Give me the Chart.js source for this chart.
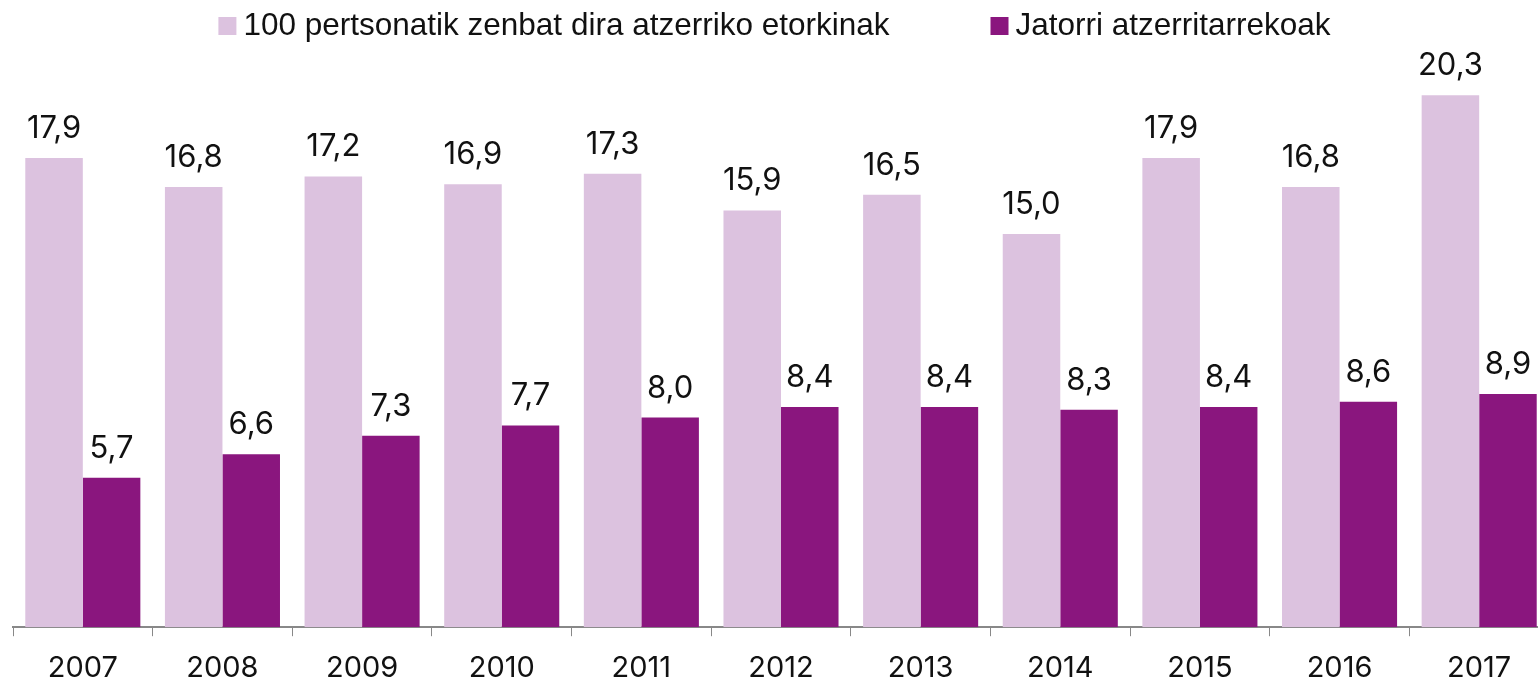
<!DOCTYPE html>
<html>
<head>
<meta charset="utf-8">
<script src="https://cdn.jsdelivr.net/npm/chart.js@4/dist/chart.umd.min.js"></script>
<style>
  html, body { margin: 0; padding: 0; background: #fff; overflow: hidden; }
  #wrap { width: 1549px; height: 701px; }
</style>
</head>
<body>
<div id="wrap"><canvas id="chart"></canvas></div>
<script>
// Datuak
const years = ['2007', '2008', '2009', '2010', '2011', '2012', '2013', '2014', '2015', '2016', '2017'];
const etorkinak = [17.9, 16.8, 17.2, 16.9, 17.3, 15.9, 16.5, 15.0, 17.9, 16.8, 20.3];
const jatorriAtzerritarrekoak = [5.7, 6.6, 7.3, 7.7, 8.0, 8.4, 8.4, 8.3, 8.4, 8.6, 8.9];
const seriesNames = ['100 pertsonatik zenbat dira atzerriko etorkinak', 'Jatorri atzerritarrekoak'];
const seriesColors = ['#dcc2df', '#8a167e'];

const numFont = 'Inter, "Liberation Sans", sans-serif';
const legendFont = '"Liberation Sans", Arial, sans-serif';

// Balioak barren gainean idazteko plugina
const valueLabels = {
    id: 'valueLabels',
    afterDatasetsDraw(chart) {
        const ctx = chart.ctx;
        ctx.save();
        ctx.font = '31px ' + numFont;
        ctx.fillStyle = '#111';
        ctx.textAlign = 'center';
        ctx.textBaseline = 'alphabetic';
        chart.data.datasets.forEach((ds, i) => {
            chart.getDatasetMeta(i).data.forEach((bar, j) => {
                const txt = ds.data[j].toFixed(1).replace('.', ',');
                ctx.fillText(txt, bar.x, bar.y - 20);
            });
        });
        ctx.restore();
    }
};

// Legenda: laukitxoa testutik hurbil, elementuen artean tarte handia
const topLegend = {
    id: 'topLegend',
    afterDraw(chart) {
        const ctx = chart.ctx;
        const box = 18, gapText = 7, gapItem = 101;
        ctx.save();
        ctx.font = '31.5px ' + legendFont;
        const widths = chart.data.datasets.map(ds => ctx.measureText(ds.label).width);
        let total = 0;
        widths.forEach((w, i) => { total += box + gapText + w + (i > 0 ? gapItem : 0); });
        let x = (chart.width - total) / 2;
        ctx.textBaseline = 'alphabetic';
        ctx.textAlign = 'left';
        chart.data.datasets.forEach((ds, i) => {
            ctx.fillStyle = ds.backgroundColor;
            ctx.fillRect(x, 17, box, box);
            ctx.fillStyle = '#111';
            ctx.fillText(ds.label, x + box + gapText, 35);
            x += box + gapText + widths[i] + gapItem;
        });
        ctx.restore();
    }
};

new Chart(document.getElementById('chart'), {
    type: 'bar',
    data: {
        labels: years,
        datasets: [{
            label: seriesNames[0],
            data: etorkinak,
            backgroundColor: seriesColors[0],
            borderWidth: 0
        }, {
            label: seriesNames[1],
            data: jatorriAtzerritarrekoak,
            backgroundColor: seriesColors[1],
            borderWidth: 0
        }]
    },
    options: {
        responsive: true,
        maintainAspectRatio: false,
        animation: false,
        layout: { padding: { left: 13, right: 0, top: 50.6, bottom: 0 } },
        datasets: {
            bar: { categoryPercentage: 0.824, barPercentage: 1.0 }
        },
        scales: {
            x: {
                grid: {
                    offset: true,
                    drawOnChartArea: false,
                    drawTicks: true,
                    tickLength: 9,
                    color: '#888'
                },
                border: { color: '#888', width: 2 },
                ticks: {
                    color: '#111',
                    font: { family: numFont, size: 29 },
                    padding: 15
                }
            },
            y: {
                display: false,
                min: 0,
                max: 22
            }
        },
        plugins: {
            legend: { display: false },
            tooltip: { enabled: false }
        }
    },
    plugins: [valueLabels, topLegend]
});
</script>
</body>
</html>
